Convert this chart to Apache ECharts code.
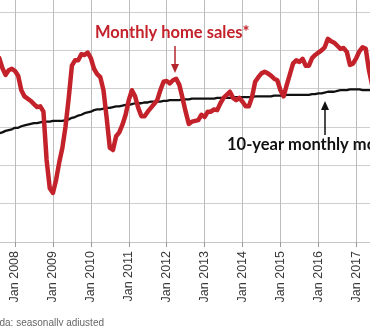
<!DOCTYPE html>
<html>
<head>
<meta charset="utf-8">
<script src="https://cdn.jsdelivr.net/npm/echarts@6/dist/echarts.min.js"></script>
<style>
  html, body { margin: 0; padding: 0; background: #ffffff; }
  #chart { width: 370px; height: 326px; }
</style>
</head>
<body>
<div id="chart"></div>
<script>
// First month shown: Aug 2007; monthly through Jun 2017
var startYear = 2007;
var startMonth = 8; // August
var monthNames = ["Jan","Feb","Mar","Apr","May","Jun","Jul","Aug","Sep","Oct","Nov","Dec"];

// Monthly home sales* (thousands, seasonally adjusted)
var monthlySales = [
  44.0, 42.7, 41.8, 42.4, 42.6,
  42.3, 41.7, 39.8, 39.0, 38.7, 38.4, 38.0, 37.6, 37.7, 37.0, 30.7, 27.0,
  26.4, 28.1, 30.4, 32.3, 35.1, 38.8, 43.0, 43.7, 43.7, 44.5, 44.4, 44.7,
  44.0, 42.6, 41.9, 41.5, 39.8, 36.2, 32.3, 32.0, 33.8, 34.3, 35.3, 36.6,
  38.5, 39.8, 39.0, 37.5, 36.4, 36.4, 37.0, 37.5, 38.0, 38.5, 39.8, 40.9,
  41.0, 40.7, 41.1, 41.3, 40.5, 38.8, 37.0, 35.4, 35.7, 35.8, 35.9, 36.6,
  36.3, 37.0, 37.0, 37.3, 37.2, 38.1, 38.8, 39.2, 39.6, 38.8, 38.5, 38.8,
  38.3, 37.7, 37.7, 38.9, 40.9, 41.5, 42.0, 42.2, 42.0, 41.7, 41.3, 41.1,
  39.8, 39.0, 40.5, 41.9, 43.3, 43.7, 43.5, 43.9, 43.0, 43.0, 44.0, 44.4,
  44.7, 45.0, 45.4, 46.5, 46.2, 46.0, 45.6, 45.2, 45.3, 44.8, 43.1, 43.3,
  44.0, 44.9, 45.4, 45.2, 42.4, 40.5
];

// 10-year monthly moving average (thousands)
var movingAverage = [
  34.2, 34.3, 34.5, 34.6, 34.7,
  34.9, 34.9, 35.1, 35.2, 35.3, 35.4, 35.5, 35.5, 35.6, 35.7, 35.7, 35.7,
  35.8, 35.8, 35.8, 35.8, 35.9, 36.0, 36.2, 36.3, 36.5, 36.6, 36.8, 36.9,
  37.0, 37.2, 37.3, 37.3, 37.4, 37.5, 37.5, 37.6, 37.7, 37.7, 37.8, 37.9,
  37.9, 38.0, 38.1, 38.1, 38.1, 38.2, 38.2, 38.3, 38.3, 38.3, 38.3, 38.4,
  38.4, 38.5, 38.5, 38.5, 38.5, 38.6, 38.6, 38.6, 38.7, 38.7, 38.7, 38.7,
  38.7, 38.7, 38.7, 38.7, 38.8, 38.8, 38.8, 38.8, 38.8, 38.9, 38.9, 38.9,
  38.9, 38.9, 38.9, 38.9, 39.0, 39.0, 39.0, 39.0, 39.0, 39.0, 39.1, 39.1,
  39.1, 39.1, 39.2, 39.2, 39.2, 39.2, 39.2, 39.2, 39.2, 39.2, 39.3, 39.3,
  39.4, 39.4, 39.5, 39.6, 39.6, 39.6, 39.7, 39.8, 39.8, 39.8, 39.9, 39.9,
  39.9, 39.9, 39.8, 39.8, 39.8, 39.8
];

var tickLabels = ["Jan 2008","Jan 2009","Jan 2010","Jan 2011","Jan 2012","Jan 2013","Jan 2014","Jan 2015","Jan 2016","Jan 2017"];

// categories: one per month
var categories = [];
(function () {
  var y = startYear, m = startMonth;
  for (var i = 0; i < monthlySales.length; i++) {
    categories.push(monthNames[m - 1] + " " + y);
    m++; if (m > 12) { m = 1; y++; }
  }
})();

function isJan(index) {
  return tickLabels.indexOf(categories[index]) >= 0;
}

var chart = echarts.init(document.getElementById('chart'), null, { renderer: 'canvas' });
var option = {
  animation: false,
  backgroundColor: '#ffffff',
  grid: { left: -0.8, right: -2.1, top: -26.3, bottom: 84, containLabel: false, outerBoundsMode: 'none' },
  xAxis: {
    type: 'category',
    data: categories,
    boundaryGap: false,
    axisLine: { show: true, lineStyle: { color: '#c4c4c4', width: 1 } },
    axisTick: { show: true, length: 5, interval: function (i) { return isJan(i); }, lineStyle: { color: '#9a9a9a' } },
    splitLine: { show: true, interval: function (i) { return isJan(i); }, lineStyle: { color: '#bdbdbd', width: 1 } },
    axisLabel: {
      interval: function (i) { return isJan(i); },
      rotate: 90,
      margin: 9,
      color: '#383838',
      fontFamily: 'Liberation Sans',
      fontSize: 12.5
    }
  },
  yAxis: {
    type: 'value',
    min: 20, max: 55, interval: 5,
    axisLine: { show: false },
    axisTick: { show: false },
    axisLabel: { show: false },
    splitLine: { show: true, lineStyle: { color: '#cfcfcf', width: 1 } }
  },
  series: [
    {
      name: '10-year monthly moving average',
      type: 'line',
      data: movingAverage,
      showSymbol: false,
      symbol: 'none',
      z: 3,
      lineStyle: { color: '#111111', width: 2.3 }
    },
    {
      name: 'Monthly home sales*',
      type: 'line',
      data: monthlySales,
      showSymbol: false,
      symbol: 'none',
      z: 4,
      lineStyle: { color: '#c4222b', width: 4.5, join: 'round', cap: 'round' }
    }
  ],
  graphic: [
    { type: 'text', left: 95, top: 24, z: 10,
      style: { text: 'Monthly home sales*', fill: '#c4222b', font: 'bold 16.5px Lato' } },
    { type: 'line', z: 10, shape: { x1: 175, y1: 46, x2: 175, y2: 66 }, style: { stroke: '#b5262c', lineWidth: 1.5 } },
    { type: 'polygon', z: 10, shape: { points: [[171, 64], [179, 64], [175, 73]] }, style: { fill: '#b5262c' } },
    { type: 'text', left: 227, top: 136, z: 10,
      style: { text: '10-year monthly moving average', fill: '#111111', font: 'bold 16.5px Lato' } },
    { type: 'line', z: 10, shape: { x1: 325, y1: 108, x2: 325, y2: 135 }, style: { stroke: '#111111', lineWidth: 1.5 } },
    { type: 'polygon', z: 10, shape: { points: [[321, 110], [329, 110], [325, 101]] }, style: { fill: '#111111' } },
    { type: 'text', z: 10, x: 104, y: 323,
      style: { text: 'Canada: seasonally adjusted', fill: '#666666', font: '10px Liberation Sans', textAlign: 'right', textVerticalAlign: 'middle' } }
  ]
};
chart.setOption(option);
</script>
</body>
</html>
